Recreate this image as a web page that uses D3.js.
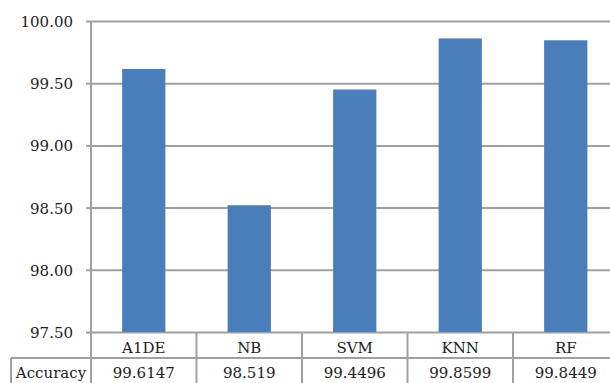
<!DOCTYPE html>
<html>
<head>
<meta charset="utf-8">
<script src="https://cdn.jsdelivr.net/npm/d3@7"></script>
<style>
  body { margin: 0; background: #fff; }
  text { font-family: "DejaVu Serif", serif; fill: #222; }
</style>
</head>
<body>
<div id="graph"></div>
<script>
// données
var categories = ["A1DE", "NB", "SVM", "KNN", "RF"];
var accuracy = [99.6147, 98.519, 99.4496, 99.8599, 99.8449];
var accuracyLabels = ["99.6147", "98.519", "99.4496", "99.8599", "99.8449"];
var yTicks = [97.5, 98, 98.5, 99, 99.5, 100];
var rowName = "Accuracy";

var largeur = 610, hauteur = 383;
var gauche = 91, droite = 618.5, haut = 21, bas = 332;
var ligne1 = 358, ligne2 = 384, tableGauche = 11;
var gris = "#a0a0a0";

var svg = d3.select("#graph").append("svg")
    .attr("width", largeur)
    .attr("height", hauteur);

var echelleY = d3.scaleLinear()
    .domain([97.5, 100])
    .range([bas, haut]);

var echelleX = d3.scaleBand()
    .domain(categories)
    .range([gauche, droite])
    .paddingInner(0.59)
    .paddingOuter(0.295);

// axe Y avec grille
var axeY = d3.axisLeft(echelleY)
    .tickValues(yTicks)
    .tickFormat(d3.format(".2f"))
    .tickSize(-(largeur - gauche + 10))
    .tickPadding(18);

var gY = svg.append("g")
    .attr("transform", "translate(" + gauche + ",0)")
    .call(axeY);
gY.select(".domain").remove();
gY.selectAll(".tick line").attr("stroke", gris).attr("stroke-width", 2);
gY.selectAll(".tick text")
    .style("font-size", "15px")
    .attr("dy", "0.36em");
// petites graduations à gauche
gY.selectAll(".tick").append("line")
    .attr("x1", -5).attr("x2", 0)
    .attr("stroke", gris).attr("stroke-width", 2);

// barres
svg.selectAll(".bar")
    .data(accuracy)
    .enter()
    .append("rect")
    .attr("class", "bar")
    .attr("x", function(d, i) { return echelleX(categories[i]); })
    .attr("width", echelleX.bandwidth())
    .attr("y", function(d) { return echelleY(d); })
    .attr("height", function(d) { return bas - echelleY(d); })
    .attr("fill", "#4a7ebb");

// axe vertical
svg.append("line")
    .attr("x1", gauche).attr("x2", gauche)
    .attr("y1", haut).attr("y2", ligne2)
    .attr("stroke", gris).attr("stroke-width", 2);

// tableau de données
var pas = echelleX.step();
svg.append("line")
    .attr("x1", tableGauche).attr("x2", largeur)
    .attr("y1", ligne1).attr("y2", ligne1)
    .attr("stroke", gris).attr("stroke-width", 2);
svg.append("line")
    .attr("x1", tableGauche).attr("x2", tableGauche)
    .attr("y1", ligne1).attr("y2", ligne2)
    .attr("stroke", gris).attr("stroke-width", 2);

svg.selectAll(".sep")
    .data(categories.slice(1))
    .enter()
    .append("line")
    .attr("class", "sep")
    .attr("x1", function(d) { return echelleX(d) - echelleX.bandwidth() * 0.59 / 0.41 / 2; })
    .attr("x2", function(d) { return echelleX(d) - echelleX.bandwidth() * 0.59 / 0.41 / 2; })
    .attr("y1", bas).attr("y2", ligne2)
    .attr("stroke", gris).attr("stroke-width", 2);

svg.selectAll(".cat")
    .data(categories)
    .enter()
    .append("text")
    .attr("class", "cat")
    .attr("x", function(d) { return echelleX(d) + echelleX.bandwidth() / 2; })
    .attr("y", 353)
    .attr("text-anchor", "middle")
    .style("font-size", "15px")
    .text(function(d) { return d; });

svg.selectAll(".val")
    .data(accuracyLabels)
    .enter()
    .append("text")
    .attr("class", "val")
    .attr("x", function(d, i) { return echelleX(categories[i]) + echelleX.bandwidth() / 2; })
    .attr("y", 378)
    .attr("text-anchor", "middle")
    .style("font-size", "15px")
    .text(function(d) { return d; });

svg.append("text")
    .attr("x", (tableGauche + gauche) / 2)
    .attr("y", 378)
    .attr("text-anchor", "middle")
    .style("font-size", "15px")
    .text(rowName);
</script>
</body>
</html>
